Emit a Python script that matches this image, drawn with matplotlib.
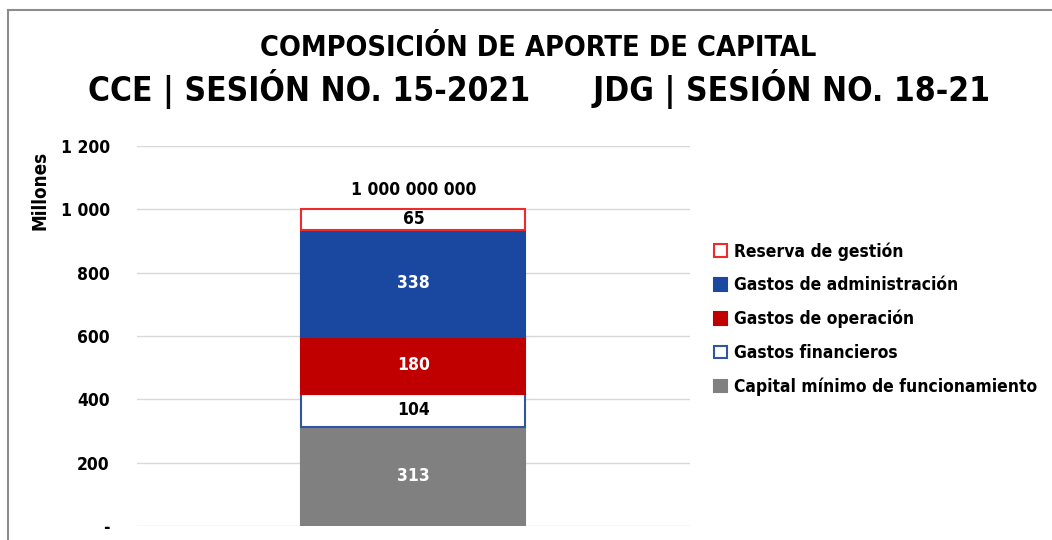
import matplotlib.pyplot as plt
from matplotlib.lines import Line2D
from matplotlib.ticker import FuncFormatter

# datos (millones)
categorias = ['Capital mínimo de funcionamiento', 'Gastos financieros',
              'Gastos de operación', 'Gastos de administración', 'Reserva de gestión']
valores = [313, 104, 180, 338, 65]
rellenos = ['#808080', 'white', '#c00000', '#1a47a0', 'white']
bordes = ['#808080', '#2f55a4', '#c00000', '#1a47a0', '#ee2a2a']
color_texto = ['white', 'black', 'white', 'white', 'black']
total_texto = '1 000 000 000'

plt.rcParams['font.family'] = ['DejaVu Sans']
plt.rcParams['font.stretch'] = 'condensed'
plt.rcParams['font.weight'] = 'bold'

fig = plt.figure(figsize=(10.52, 5.40), dpi=100)
ax = fig.add_axes([0.130, 0.026, 0.526, 0.704])

base = 0
for nombre, v, fc, ec, tc in zip(categorias, valores, rellenos, bordes, color_texto):
    ax.bar(0, v, width=0.405, bottom=base, color=fc, edgecolor=ec,
           linewidth=1.5, label=nombre, zorder=3)
    ax.text(0, base + v / 2, str(v), ha='center', va='center', color=tc,
            fontsize=12.5, fontweight='bold', zorder=4)
    base += v

ax.text(0, base + 62, total_texto, ha='center', va='center', fontsize=12.5,
        fontweight='bold')

ax.set_xlim(-0.5, 0.5)
ax.set_ylim(0, 1200)
ax.set_yticks(range(0, 1201, 200))
ax.yaxis.set_major_formatter(FuncFormatter(
    lambda v, p: '-' if v == 0 else f'{int(v):,}'.replace(',', ' ')))
ax.set_xticks([])
ax.tick_params(axis='y', length=0, labelsize=12.5, pad=19.5)
for t in ax.get_yticklabels():
    t.set_fontweight('bold')
ax.grid(axis='y', color='#d9d9d9', linewidth=1, zorder=0)
for s in ax.spines.values():
    s.set_visible(False)

fig.text(0.038, 0.648, 'Millones', rotation=90, ha='center', va='center',
         fontsize=13.5, fontweight='bold')

h, l = ax.get_legend_handles_labels()
ax.legend(h[::-1], l[::-1], loc='upper left', bbox_to_anchor=(1.03, 0.765),
          frameon=False, fontsize=12.5, handlelength=0.75, handleheight=0.75,
          handletextpad=0.45, labelspacing=0.9, borderaxespad=0)

fig.text(0.512, 0.912, 'COMPOSICIÓN DE APORTE DE CAPITAL', ha='center', va='center',
         fontsize=20.7, fontweight='bold')
fig.text(0.512, 0.835, 'CCE | SESIÓN NO. 15-2021      JDG | SESIÓN NO. 18-21',
         ha='center', va='center', fontsize=24, fontweight='bold')

# marco del gráfico original
fig.add_artist(Line2D([8 / 1052, 8 / 1052], [0, 1 - 10 / 540], color='#8c8c8c', linewidth=1.5))
fig.add_artist(Line2D([8 / 1052, 1], [1 - 10 / 540, 1 - 10 / 540], color='#8c8c8c', linewidth=1.5))

fig.savefig('out.png', dpi=100)
